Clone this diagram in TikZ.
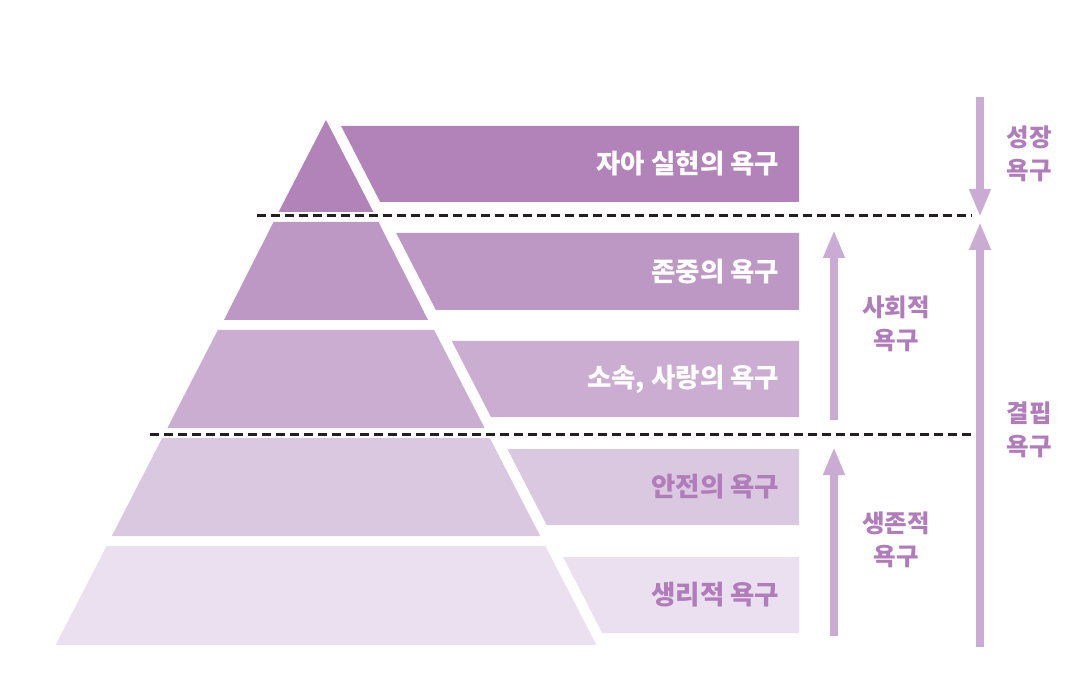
\documentclass[tikz,border=0pt]{standalone}
\usepackage{fontspec}
\newfontfamily\kr{Noto Sans CJK KR}
\usetikzlibrary{arrows.meta}
\definecolor{cA}{HTML}{B283B8}
\definecolor{cB}{HTML}{BE98C4}
\definecolor{cC}{HTML}{CBADD2}
\definecolor{cD}{HTML}{DAC8E1}
\definecolor{cE}{HTML}{EBE0EF}
\definecolor{arr}{HTML}{C9ABD3}
\definecolor{lab}{HTML}{B07CBA}
\definecolor{dash}{HTML}{231F20}
\tikzset{
  boxtext/.style={anchor=east, inner sep=0pt, font=\kr\bfseries\fontsize{26.5}{30}\selectfont},
  sidelabel/.style={align=center, inner sep=0pt, text=lab, font=\kr\bfseries\fontsize{24.5}{33}\selectfont},
  divider/.style={draw=dash, line width=3pt, dash pattern=on 9pt off 5pt},
  bigarrow/.style={draw=arr, line width=8pt, -{Triangle[width=20pt,length=28pt]}}
}
\begin{document}
\begin{tikzpicture}[x=1pt,y=-1pt]
\useasboundingbox (0,0) rectangle (1081,692);
% pyramid levels
\fill[cA] (326,120) -- (373.4,212) -- (278.6,212) -- cycle;
\fill[cB] (273.5,222) -- (378.5,222) -- (428.0,320) -- (224.0,320) -- cycle;
\fill[cC] (217.85,330) -- (434.15,330) -- (484.6,428) -- (167.4,428) -- cycle;
\fill[cD] (162.2,438) -- (489.8,438) -- (540.2,536) -- (111.8,536) -- cycle;
\fill[cE] (106.6,546) -- (545.4,546) -- (596.4,645) -- (55.6,645) -- cycle;
% label boxes
\fill[cA] (341.1,126) -- (799,126) -- (799,202) -- (380.2,202) -- cycle;
\fill[cB] (396.2,233) -- (799,233) -- (799,310) -- (435.85,310) -- cycle;
\fill[cC] (451.8,341) -- (799,341) -- (799,417) -- (490.96,417) -- cycle;
\fill[cD] (507.4,449) -- (799,449) -- (799,525) -- (546.6,525) -- cycle;
\fill[cE] (563.06,557) -- (799,557) -- (799,633) -- (602.2,633) -- cycle;
% texts
\node[boxtext, text=white] (t1) at (779.5,164) {자아 실현의 욕구};
\node[boxtext, text=white] (t2) at (779.5,271.5) {존중의 욕구};
\node[boxtext, text=white] (t3) at (779.5,379) {소속, 사랑의 욕구};
\node[boxtext, text=lab] (t4) at (779.5,487) {안전의 욕구};
\node[boxtext, text=lab] (t5) at (779.5,595) {생리적 욕구};
% dividers
\coordinate (d1a) at (257,216); \coordinate (d1b) at (972,216);
\coordinate (d2a) at (150,434); \coordinate (d2b) at (972,434);
\draw[divider] (d1a) -- (d1b);
\draw[divider] (d2a) -- (d2b);
% arrows
\coordinate (g1) at (980,97); \coordinate (g2) at (980,217);
\coordinate (k1) at (980,647); \coordinate (k2) at (980,222);
\coordinate (s1) at (834,420); \coordinate (s2) at (834,230);
\coordinate (v1) at (834,636); \coordinate (v2) at (834,447);
\draw[bigarrow] (g1) -- (g2);
\draw[bigarrow] (k1) -- (k2);
\draw[bigarrow] (s1) -- (s2);
\draw[bigarrow] (v1) -- (v2);
% side labels
\node[sidelabel] (l1) at (1029,153.5) {성장\\욕구};
\node[sidelabel] (l2) at (896,324) {사회적\\욕구};
\node[sidelabel] (l3) at (1029,430) {결핍\\욕구};
\node[sidelabel] (l4) at (896,539.5) {생존적\\욕구};
\end{tikzpicture}
\end{document}
